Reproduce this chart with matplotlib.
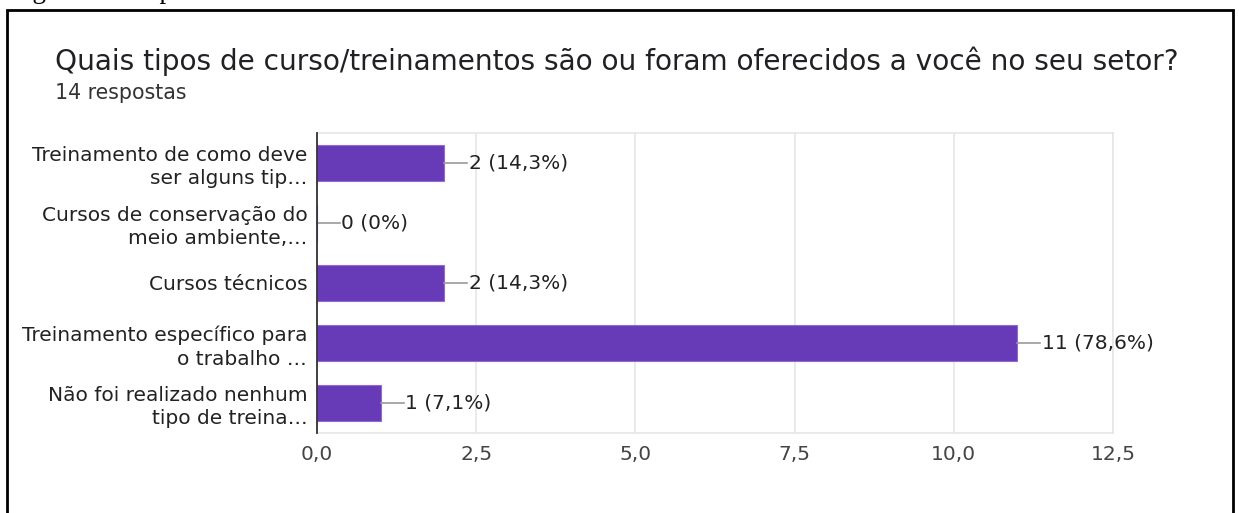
import matplotlib
matplotlib.use("Agg")
import matplotlib.pyplot as plt
from matplotlib.patches import Rectangle

categories = [
    "Treinamento de como deve\nser alguns tip\u2026",
    "Cursos de conservação do\nmeio ambiente,\u2026",
    "Cursos técnicos",
    "Treinamento específico para\no trabalho \u2026",
    "Não foi realizado nenhum\ntipo de treina\u2026",
]
counts = [2, 0, 2, 11, 1]
percent_labels = ["14,3%", "0%", "14,3%", "78,6%", "7,1%"]
xticks = [0, 2.5, 5.0, 7.5, 10.0, 12.5]
xtick_labels = ["0,0", "2,5", "5,0", "7,5", "10,0", "12,5"]
title = "Quais tipos de curso/treinamentos são ou foram oferecidos a você no seu setor?"
subtitle = "14 respostas"
caption = "Figura 13 - Tipos de"

W, H = 1239, 513
fig = plt.figure(figsize=(W / 100, H / 100), dpi=100)
fig.patch.set_facecolor("white")

# outer border box (bottom edge lies outside the picture)
fig.patches.append(Rectangle((7 / W, -0.05), (1233 - 7) / W, 1.05 - 10 / H,
                             transform=fig.transFigure, fill=False,
                             edgecolor="black", linewidth=2))
# caption above the box, cropped at the top edge as in the reference
fig.text(10 / W, 1 + 1.5 / H, caption, family="Liberation Serif",
         fontsize=19.5, va="baseline", ha="left", color="black")

ax = fig.add_axes([317 / W, 1 - 433 / H, (1113 - 317) / W, (433 - 133) / H])
ypos = list(range(len(categories)))
ax.barh(ypos, counts, height=0.6, color="#673AB7", edgecolor="#8E6BD0",
        linewidth=0.8, zorder=3)
ax.set_ylim(len(categories) - 0.5, -0.5)
ax.set_xlim(0, 12.5)
ax.set_xticks(xticks)
ax.set_xticklabels(xtick_labels, family="DejaVu Sans", fontsize=14.5,
                   color="#444444")
ax.set_yticks(ypos)
ax.set_yticklabels(categories, family="DejaVu Sans", fontsize=14.5,
                   color="#222222", linespacing=1.3)
ax.tick_params(length=0, pad=7)
ax.tick_params(axis="x", pad=8.5)
ax.grid(axis="x", color="#e6e6e6", linewidth=1.2, zorder=0)
for s in ["top", "right", "bottom"]:
    ax.spines[s].set_color("#e6e6e6")
    ax.spines[s].set_linewidth(1.2)
ax.spines["left"].set_color("#333333")
ax.spines["left"].set_linewidth(1.3)
ax.spines["left"].set_zorder(4)

for y, c, p in zip(ypos, counts, percent_labels):
    ax.plot([c, c + 0.36], [y, y], color="#999999", linewidth=1.2, zorder=3,
            clip_on=False)
    ax.text(c + 0.38, y, f"{c} ({p})", va="center", ha="left",
            family="DejaVu Sans", fontsize=14.5, color="#222222")

fig.text(55 / W, 1 - 61 / H, title, family="DejaVu Sans", fontsize=20.2,
         color="#202124", va="center", ha="left")
fig.text(55 / W, 1 - 93 / H, subtitle, family="DejaVu Sans", fontsize=14.8,
         color="#333333", va="center", ha="left")

fig.savefig("out.png", dpi=100, facecolor="white")
